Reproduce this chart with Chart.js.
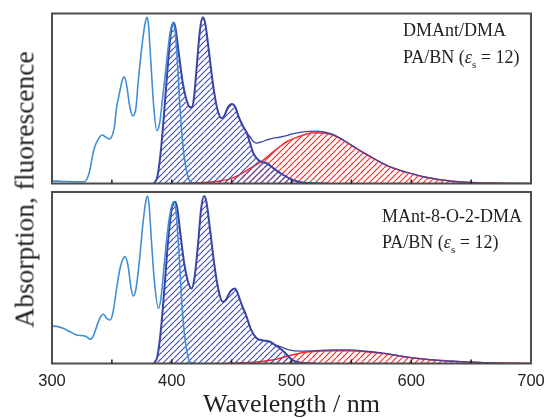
<!DOCTYPE html>
<html>
<head>
<meta charset="utf-8">
<script src="https://cdn.jsdelivr.net/npm/chart.js@4"></script>
<style>
  body { margin: 0; background: #fff; }
  #wrap { position: relative; width: 547px; height: 418px; background: #fff; overflow: hidden; }
  canvas { position: absolute; left: 0; }
  .note { position: absolute; font-family: "Liberation Serif", serif; font-size: 18px; line-height: 17px; color: #222; white-space: nowrap; }
  .note .sub { font-size: 11px; position: relative; top: 5px; }
  .ytitle { position: absolute; left: -126px; top: 176px; width: 300px; height: 27px; line-height: 27px; text-align: center;
            font-family: "Liberation Serif", serif; font-size: 27.5px; color: #222; transform: rotate(-90deg); white-space: nowrap; }
</style>
</head>
<body>
<div id="wrap">
  <canvas id="cTop" width="547" height="190" style="top:0"></canvas>
  <canvas id="cBot" width="547" height="228" style="top:190px"></canvas>
  <div class="ytitle">Absorption, fluorescence</div>
  <div class="note" style="left:403px;top:22px">DMAnt/DMA</div>
  <div class="note" style="left:403px;top:49px">PA/BN (<i>ε</i><span class="sub">s</span> = 12)</div>
  <div class="note" style="left:382px;top:208px">MAnt-8-O-2-DMA</div>
  <div class="note" style="left:382px;top:234px">PA/BN (<i>ε</i><span class="sub">s</span> = 12)</div>
</div>
<script>
// x axis
const xTicks = [300, 400, 500, 600, 700];
const tickMarks = [350, 400, 450, 500, 550, 600, 650];

// ---- top panel: DMAnt/DMA ----
const wlAbsTop = [300, 310, 320, 327, 331, 335, 339, 342, 345, 348, 352, 354, 356, 359, 360.5, 362.5, 365, 367.5, 370, 372, 374, 376, 378, 379.2, 380.5, 382.5, 385, 387.5, 390, 392, 394.4, 397, 399, 401, 403, 405.5, 407, 409.7, 412, 414, 416, 420];
const absTop   = [0.015, 0.012, 0.01, 0.01, 0.06, 0.20, 0.265, 0.285, 0.272, 0.262, 0.33, 0.45, 0.52, 0.615, 0.628, 0.57, 0.45, 0.397, 0.44, 0.6, 0.74, 0.86, 0.95, 0.978, 0.94, 0.72, 0.45, 0.31, 0.36, 0.48, 0.63, 0.8, 0.9, 0.942, 0.88, 0.62, 0.43, 0.197, 0.09, 0.03, 0.01, 0.0];

const wlLeTop = [385, 388, 391, 394, 397, 399.5, 401.3, 403, 406, 409, 412, 415, 416.6, 418.5, 421, 423.5, 425.8, 428, 431, 434.5, 438, 441.6, 444, 447, 450.5, 453, 456, 459.7, 462.5, 465.3, 468, 472.3, 476, 479.3, 483, 487, 493.2, 501.5, 508, 515, 530];
const leTop   = [0, 0.04, 0.2, 0.45, 0.72, 0.9, 0.946, 0.92, 0.76, 0.6, 0.5, 0.45, 0.448, 0.5, 0.7, 0.9, 0.978, 0.94, 0.78, 0.58, 0.44, 0.384, 0.4, 0.45, 0.468, 0.45, 0.39, 0.334, 0.3, 0.24, 0.18, 0.138, 0.125, 0.119, 0.1, 0.079, 0.05, 0.02, 0.008, 0.003, 0];

const wlTotTop = [445, 450.5, 453, 456, 459.7, 462.5, 465.3, 468, 471, 475, 480, 485, 490, 495, 500, 505, 512, 520, 527, 535, 543, 552, 561, 571, 580, 590, 600, 610, 620, 630, 640, 655, 670, 700];
const totTop   = [0.42, 0.468, 0.45, 0.39, 0.334, 0.3, 0.275, 0.248, 0.238, 0.245, 0.258, 0.267, 0.272, 0.28, 0.29, 0.298, 0.305, 0.308, 0.303, 0.287, 0.257, 0.217, 0.178, 0.138, 0.105, 0.079, 0.058, 0.04, 0.027, 0.017, 0.01, 0.004, 0.002, 0];

const wlExTop = [410, 420, 430, 440, 450, 460, 468, 475, 482, 490, 497, 504, 512, 521, 528, 535, 543, 552, 561, 571, 580, 590, 600, 610, 620, 630, 640, 655, 670, 700];
const exTop   = [0, 0.003, 0.008, 0.015, 0.03, 0.065, 0.1, 0.13, 0.17, 0.215, 0.25, 0.27, 0.29, 0.298, 0.295, 0.283, 0.255, 0.216, 0.178, 0.138, 0.105, 0.079, 0.058, 0.04, 0.027, 0.017, 0.01, 0.004, 0.002, 0];

// ---- bottom panel: MAnt-8-O-2-DMA ----
const wlAbsBot = [300, 305, 309.4, 315, 320.6, 327.6, 332.3, 335, 337.3, 340, 342.9, 345.5, 348.4, 351, 354, 357, 361, 363.5, 366, 367.9, 370, 373, 376, 378.2, 379.6, 381, 383, 385.5, 388.8, 391, 394, 397, 400, 401.9, 403.5, 406, 408, 409.7, 411.5, 413.5, 415.2, 420];
const absBot   = [0.219, 0.215, 0.205, 0.185, 0.166, 0.16, 0.141, 0.17, 0.215, 0.265, 0.287, 0.265, 0.254, 0.3, 0.44, 0.56, 0.623, 0.57, 0.44, 0.394, 0.43, 0.6, 0.82, 0.94, 0.977, 0.93, 0.72, 0.48, 0.322, 0.38, 0.6, 0.8, 0.92, 0.943, 0.89, 0.65, 0.4, 0.234, 0.12, 0.04, 0.01, 0];

const wlLeBot = [385, 388, 391, 394, 397, 400, 402.7, 404.5, 407.5, 410.5, 413.5, 416.6, 419, 422, 424.5, 427, 429, 432, 435.5, 439, 442.5, 445, 449, 452.8, 455, 458, 462.5, 466, 470.9, 476, 482, 487, 491, 495, 499, 503, 510, 520];
const leBot   = [0, 0.04, 0.2, 0.45, 0.72, 0.9, 0.943, 0.91, 0.74, 0.58, 0.48, 0.438, 0.5, 0.7, 0.9, 0.977, 0.94, 0.78, 0.58, 0.43, 0.36, 0.37, 0.42, 0.438, 0.41, 0.35, 0.273, 0.2, 0.147, 0.135, 0.127, 0.105, 0.085, 0.06, 0.03, 0.012, 0.003, 0];

const wlTotBot = [476, 482, 485, 490.6, 498.7, 507, 515, 525, 535, 548.8, 560, 576.6, 590, 604.5, 620, 635, 646, 665, 700];
const totBot   = [0.135, 0.127, 0.112, 0.098, 0.078, 0.072, 0.073, 0.077, 0.079, 0.079, 0.073, 0.06, 0.045, 0.03, 0.02, 0.013, 0.01, 0.004, 0];

const wlExBot = [445, 455, 465, 475, 485, 493, 500, 507, 515, 525, 535, 549, 560, 576.6, 590, 604, 620, 635, 646, 665, 700];
const exBot   = [0, 0.003, 0.006, 0.012, 0.022, 0.035, 0.05, 0.06, 0.068, 0.073, 0.075, 0.075, 0.07, 0.058, 0.044, 0.03, 0.02, 0.013, 0.009, 0.004, 0];

const ABS_COLOR = '#3f8fd6';
const FL_COLOR = '#3a44a6';
const EX_COLOR = '#ff2a2a';

const pts = (xs, ys) => xs.map((x, i) => ({ x, y: ys[i] }));

const hatch = (color) => {
  const w = 6, h = 6;
  const c = document.createElement('canvas');
  c.width = w; c.height = h;
  const g = c.getContext('2d');
  g.strokeStyle = color;
  g.lineWidth = 1.2;
  g.beginPath();
  for (let k = -1; k <= 1; k++) {
    g.moveTo(k * w, h);
    g.lineTo(k * w + w, 0);
  }
  g.stroke();
  return g.createPattern(c, 'repeat');
};

// box around the plot + short inward ticks every 50 nm
const frameTicks = {
  id: 'frameTicks',
  afterDatasetsDraw(chart) {
    const { ctx, chartArea: a } = chart;
    const x = chart.scales.x;
    ctx.save();
    ctx.strokeStyle = '#4d4d4d';
    ctx.lineWidth = 2;
    ctx.strokeRect(a.left, a.top, a.right - a.left, a.bottom - a.top);
    ctx.strokeStyle = '#222';
    ctx.lineWidth = 1.5;
    ctx.beginPath();
    tickMarks.forEach(v => {
      const px = x.getPixelForValue(v);
      ctx.moveTo(px, a.bottom);
      ctx.lineTo(px, a.bottom - 4);
    });
    ctx.stroke();
    ctx.restore();
  }
};

const makeDatasets = (abs, le, tot, ex) => [
  { data: abs, borderColor: ABS_COLOR, borderWidth: 1.6, fill: false, order: 1 },
  { data: tot, borderColor: FL_COLOR, borderWidth: 1.3, fill: false, order: 2 },
  { data: le, borderColor: FL_COLOR, borderWidth: 2, fill: 'origin', backgroundColor: hatch('#4650ad'), order: 3 },
  { data: ex, borderColor: EX_COLOR, borderWidth: 1.5, fill: 'origin', backgroundColor: hatch(EX_COLOR), order: 4 }
];

const baseOptions = (showX, padding) => ({
  responsive: false,
  animation: false,
  layout: { padding },
  elements: { point: { radius: 0 }, line: { cubicInterpolationMode: 'monotone' } },
  plugins: { legend: { display: false }, tooltip: { enabled: false } },
  scales: {
    x: {
      type: 'linear', min: 300, max: 700, display: showX,
      grid: { display: false, drawTicks: false },
      border: { display: false },
      afterBuildTicks: s => { s.ticks = xTicks.map(v => ({ value: v })); },
      afterFit: s => { s.paddingLeft = 0; s.paddingRight = 0; },
      ticks: { padding: 7.6, color: '#222', font: { family: '"Liberation Sans", Arial, sans-serif', size: 16.5 } },
      title: {
        display: showX, text: 'Wavelength / nm', color: '#222', padding: { top: -6.5, bottom: 0 },
        font: { family: '"Liberation Serif", "Times New Roman", serif', size: 26, lineHeight: 1 }
      }
    },
    y: { min: 0, max: 1, display: false }
  }
});

new Chart(document.getElementById('cTop'), {
  type: 'line',
  data: { datasets: makeDatasets(pts(wlAbsTop, absTop), pts(wlLeTop, leTop), pts(wlTotTop, totTop), pts(wlExTop, exTop)) },
  options: baseOptions(false, { left: 52, right: 16, top: 13.5, bottom: 6.5 }),
  plugins: [frameTicks]
});

new Chart(document.getElementById('cBot'), {
  type: 'line',
  data: { datasets: makeDatasets(pts(wlAbsBot, absBot), pts(wlLeBot, leBot), pts(wlTotBot, totBot), pts(wlExBot, exBot)) },
  options: baseOptions(true, { left: 52, right: 16, top: 2, bottom: 0 }),
  plugins: [frameTicks]
});
</script>
</body>
</html>
